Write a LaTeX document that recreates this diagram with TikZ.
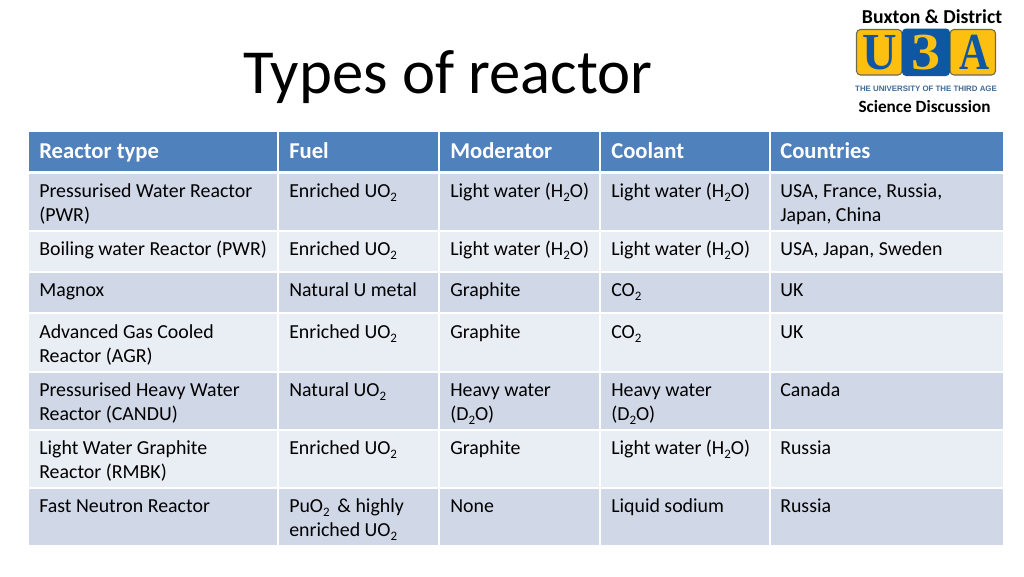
\documentclass[tikz,border=0pt]{standalone}
\usepackage{fontspec}
\setmainfont{Carlito}
\newfontfamily\logofont{Liberation Serif}
\newfontfamily\strapfont{Liberation Sans}
\definecolor{headblue}{HTML}{4F81BD}
\definecolor{rowdark}{HTML}{D0D8E8}
\definecolor{rowlight}{HTML}{E9EDF4}
\definecolor{logoblue}{HTML}{0F57A3}
\definecolor{logogold}{HTML}{FDC010}
\definecolor{logoedge}{HTML}{6B6B50}
\definecolor{strapblue}{HTML}{3F6A96}
\newcommand{\subtwo}{\raisebox{-3pt}{\fontsize{9.7}{10}\selectfont 2}}
\tikzset{
  celltext/.style={anchor=base west, align=left, inner sep=0pt, font=\fontsize{14.9}{18}\selectfont, text=black},
  headtext/.style={anchor=base west, inner sep=0pt, font=\fontsize{17}{20}\selectfont\bfseries, text=white},
  logobox/.style={rounded corners=3pt, draw=logoedge, line width=0.8pt, fill=logogold},
  logoletter/.style={inner sep=0pt, font=\fontsize{39}{39}\logofont\bfseries, text=logoblue},
  logonote/.style={inner sep=0pt, font=\fontsize{14.8}{16}\selectfont\bfseries, text=black}
}
\begin{document}
\begin{tikzpicture}[x=0.75pt,y=-0.75pt]
  \useasboundingbox (0,0) rectangle (1024,576);
  \fill[white] (0,0) rectangle (1024,576);
  % table bands
  \fill[headblue] (29,132) rectangle (1003,171);
  \foreach \ya/\yb/\tint in {174/231/rowdark,231/272/rowlight,272/313/rowdark,313/372/rowlight,
                             372/430/rowdark,430/488/rowlight,488/545/rowdark}
    \fill[\tint] (29,\ya) rectangle (1003,\yb);
  \foreach \ya in {231,272,313,372,430,488}
    \draw[white,line width=1pt] (29,\ya) -- (1003,\ya);
  \foreach \xa in {278,439,600,770}
    \draw[white,line width=1.5pt] (\xa,132) -- (\xa,545);
  \draw[white,line width=2.2pt] (29,172.5) -- (1003,172.5);
  % title
  \node[anchor=base west, inner sep=0pt, font=\fontsize{47}{56}\selectfont] (title) at (243,93) {Types of reactor};
  % header
  \node[headtext] (hType) at (39,158) {Reactor type};
  \node[headtext] (hFuel) at (289,158) {Fuel};
  \node[headtext] (hMod) at (450,158) {Moderator};
  \node[headtext] (hCool) at (611,158) {Coolant};
  \node[headtext] (hLand) at (780,158) {Countries};
  % rows, the base of a cell is its last line
  \node[celltext] (pwrType) at (39,221) {Pressurised Water Reactor\\(PWR)};
  \node[celltext] (pwrFuel) at (289,197) {Enriched UO\subtwo};
  \node[celltext] (pwrMod) at (450,197) {Light water (H\subtwo O)};
  \node[celltext] (pwrCool) at (611,197) {Light water (H\subtwo O)};
  \node[celltext] (pwrLand) at (780,221) {USA, France, Russia,\\Japan, China};
  \node[celltext] (bwrType) at (39,255) {Boiling water Reactor (PWR)};
  \node[celltext] (bwrFuel) at (289,255) {Enriched UO\subtwo};
  \node[celltext] (bwrMod) at (450,255) {Light water (H\subtwo O)};
  \node[celltext] (bwrCool) at (611,255) {Light water (H\subtwo O)};
  \node[celltext] (bwrLand) at (780,255) {USA, Japan, Sweden};
  \node[celltext] (magType) at (39,296) {Magnox};
  \node[celltext] (magFuel) at (289,296) {Natural U metal};
  \node[celltext] (magMod) at (450,296) {Graphite};
  \node[celltext] (magCool) at (611,296) {CO\subtwo};
  \node[celltext] (magLand) at (780,296) {UK};
  \node[celltext] (agrType) at (39,362) {Advanced Gas Cooled\\Reactor (AGR)};
  \node[celltext] (agrFuel) at (289,338) {Enriched UO\subtwo};
  \node[celltext] (agrMod) at (450,338) {Graphite};
  \node[celltext] (agrCool) at (611,338) {CO\subtwo};
  \node[celltext] (agrLand) at (780,338) {UK};
  \node[celltext] (canType) at (39,420) {Pressurised Heavy Water\\Reactor (CANDU)};
  \node[celltext] (canFuel) at (289,396) {Natural UO\subtwo};
  \node[celltext] (canMod) at (450,420) {Heavy water\\(D\subtwo O)};
  \node[celltext] (canCool) at (611,420) {Heavy water\\(D\subtwo O)};
  \node[celltext] (canLand) at (780,396) {Canada};
  \node[celltext] (rbmType) at (39,478) {Light Water Graphite\\Reactor (RMBK)};
  \node[celltext] (rbmFuel) at (289,454) {Enriched UO\subtwo};
  \node[celltext] (rbmMod) at (450,454) {Graphite};
  \node[celltext] (rbmCool) at (611,454) {Light water (H\subtwo O)};
  \node[celltext] (rbmLand) at (780,454) {Russia};
  \node[celltext] (fnrType) at (39,512) {Fast Neutron Reactor};
  \node[celltext] (fnrFuel) at (289,536) {PuO\subtwo{} \,\& highly\\enriched UO\subtwo};
  \node[celltext] (fnrMod) at (450,512) {None};
  \node[celltext] (fnrCool) at (611,512) {Liquid sodium};
  \node[celltext] (fnrLand) at (780,512) {Russia};
  % logo
  \node[logonote] (club) at (932,17) {Buxton \& District};
  \draw[logobox] (856.5,29.5) rectangle (902,75);
  \draw[logobox] (950,29.5) rectangle (995.5,75);
  \fill[logoblue, rounded corners=3pt] (902,28.5) rectangle (950,76);
  \node[logoletter, xscale=0.92] (logoU) at (880,52.5) {U};
  \node[logoletter, text=logogold, xscale=1.12] (logo3) at (926.5,52.5) {3};
  \node[logoletter, xscale=0.8] (logoA) at (975,52.5) {A};
  \node[inner sep=0pt, font=\fontsize{5.9}{7}\strapfont\bfseries, text=strapblue] (strap) at (926,88.5) {THE UNIVERSITY OF THE THIRD AGE};
  \node[logonote, font=\fontsize{12.9}{15}\selectfont\bfseries] (group) at (924.5,107) {Science Discussion};
\end{tikzpicture}
\end{document}
